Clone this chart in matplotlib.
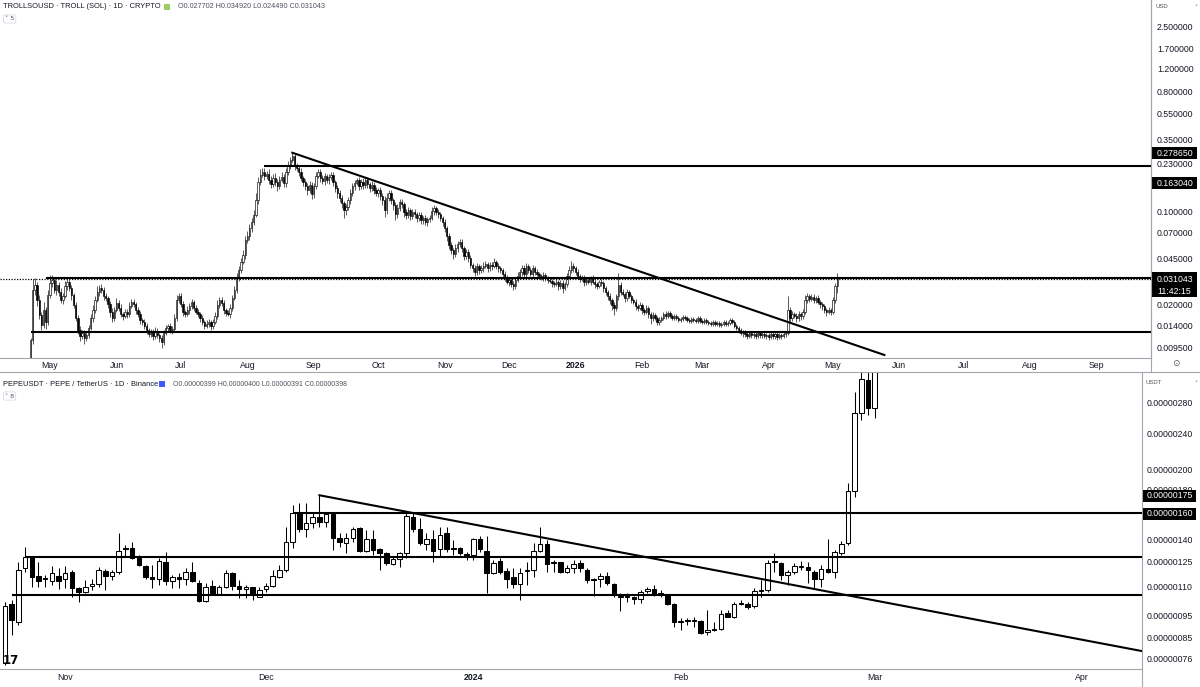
import numpy as np
import matplotlib.pyplot as plt
import matplotlib.dates as mdates
from matplotlib.patches import Rectangle
from matplotlib.lines import Line2D
from matplotlib.transforms import Affine2D
from matplotlib.ticker import FixedLocator, NullLocator

plt.rcParams['font.family'] = ['Liberation Sans', 'DejaVu Sans']

# ---------------- TROLL (top) : daily closes, 2025-04-22 .. 2026-05-03 ----------------
troll_start = '2025-04-22'
troll_first_open = 0.0081
troll_close = [
    0.0109, 0.0259, 0.0282, 0.0218, 0.0168, 0.0141, 0.0183, 0.0149, 0.0237, 0.0292,
    0.0308, 0.0259, 0.0282, 0.0250, 0.0218, 0.0233, 0.0277, 0.0297, 0.0268, 0.0237,
    0.0200, 0.0159, 0.0129, 0.0117, 0.0123, 0.0113, 0.0119, 0.0134, 0.0159, 0.0183,
    0.0218, 0.0250, 0.0268, 0.0259, 0.0233, 0.0225, 0.0203, 0.0177, 0.0159, 0.0183,
    0.0207, 0.0190, 0.0171, 0.0165, 0.0177, 0.0171, 0.0196, 0.0210, 0.0203, 0.0183,
    0.0171, 0.0154, 0.0149, 0.0139, 0.0129, 0.0121, 0.0125, 0.0117, 0.0127, 0.0119,
    0.0113, 0.0105, 0.0123, 0.0134, 0.0139, 0.0129, 0.0132, 0.0159, 0.0218, 0.0233,
    0.0203, 0.0177, 0.0171, 0.0183, 0.0196, 0.0210, 0.0190, 0.0177, 0.0171, 0.0159,
    0.0149, 0.0139, 0.0144, 0.0149, 0.0139, 0.0149, 0.0165, 0.0200, 0.0218, 0.0207,
    0.0183, 0.0174, 0.0171, 0.0190, 0.0225, 0.0259, 0.0319, 0.0366, 0.0420, 0.0474,
    0.0615, 0.0659, 0.0757, 0.0840, 0.0948, 0.1229, 0.1679, 0.1895, 0.1995, 0.1862,
    0.1927, 0.1738, 0.1622, 0.1799, 0.1679, 0.1566, 0.1738, 0.1830, 0.1650, 0.1995,
    0.2253, 0.2457, 0.2634, 0.2214, 0.2139, 0.1995, 0.1799, 0.1679, 0.1566, 0.1462,
    0.1594, 0.1363, 0.1566, 0.1862, 0.1995, 0.1799, 0.1708, 0.1862, 0.1738, 0.1830,
    0.1895, 0.1679, 0.1513, 0.1387, 0.1272, 0.1167, 0.1034, 0.1089, 0.1229, 0.1387,
    0.1566, 0.1650, 0.1738, 0.1566, 0.1679, 0.1594, 0.1738, 0.1622, 0.1513, 0.1594,
    0.1462, 0.1387, 0.1462, 0.1317, 0.1229, 0.1034, 0.1272, 0.1387, 0.1229, 0.1127,
    0.0964, 0.1070, 0.1187, 0.1147, 0.0998, 0.0948, 0.1034, 0.0932, 0.0998, 0.0964,
    0.0900, 0.0948, 0.0869, 0.0900, 0.0840, 0.0884, 0.0900, 0.1016, 0.1070, 0.0998,
    0.0964, 0.0900, 0.0840, 0.0757, 0.0659, 0.0564, 0.0517, 0.0482, 0.0535, 0.0574,
    0.0594, 0.0535, 0.0466, 0.0499, 0.0450, 0.0399, 0.0379, 0.0353, 0.0392, 0.0366,
    0.0379, 0.0392, 0.0406, 0.0379, 0.0399, 0.0392, 0.0420, 0.0392, 0.0379, 0.0366,
    0.0341, 0.0319, 0.0297, 0.0308, 0.0287, 0.0277, 0.0308, 0.0330, 0.0353, 0.0379,
    0.0341, 0.0392, 0.0366, 0.0341, 0.0379, 0.0353, 0.0341, 0.0330, 0.0319, 0.0336,
    0.0319, 0.0308, 0.0302, 0.0292, 0.0287, 0.0297, 0.0277, 0.0292, 0.0268, 0.0287,
    0.0330, 0.0366, 0.0392, 0.0379, 0.0353, 0.0330, 0.0313, 0.0319, 0.0297, 0.0308,
    0.0297, 0.0319, 0.0297, 0.0287, 0.0277, 0.0297, 0.0292, 0.0268, 0.0250, 0.0233,
    0.0218, 0.0200, 0.0190, 0.0233, 0.0282, 0.0250, 0.0241, 0.0225, 0.0250, 0.0233,
    0.0218, 0.0210, 0.0196, 0.0190, 0.0200, 0.0183, 0.0177, 0.0190, 0.0171, 0.0159,
    0.0168, 0.0159, 0.0149, 0.0154, 0.0159, 0.0171, 0.0165, 0.0174, 0.0165, 0.0159,
    0.0165, 0.0159, 0.0154, 0.0157, 0.0162, 0.0159, 0.0154, 0.0151, 0.0157, 0.0154,
    0.0151, 0.0159, 0.0151, 0.0149, 0.0154, 0.0149, 0.0146, 0.0144, 0.0149, 0.0144,
    0.0146, 0.0141, 0.0144, 0.0149, 0.0144, 0.0146, 0.0154, 0.0149, 0.0139, 0.0134,
    0.0129, 0.0123, 0.0125, 0.0121, 0.0117, 0.0123, 0.0119, 0.0121, 0.0117, 0.0123,
    0.0119, 0.0121, 0.0117, 0.0119, 0.0115, 0.0121, 0.0117, 0.0121, 0.0115, 0.0119,
    0.0117, 0.0121, 0.0123, 0.0183, 0.0159, 0.0171, 0.0165, 0.0159, 0.0171, 0.0165,
    0.0177, 0.0218, 0.0233, 0.0221, 0.0229, 0.0218, 0.0225, 0.0210, 0.0203, 0.0196,
    0.0183, 0.0177, 0.0183, 0.0177, 0.0218, 0.0277, 0.031043,
]
# upper / lower wick length, % beyond the candle body
troll_wick_hi = [
    4, 20, 12, 6, 8, 5, 15, 6, 10, 14,
    8, 6, 9, 5, 7, 6, 10, 8, 6, 5,
    4, 6, 5, 8, 6, 5, 7, 6, 8, 9,
    7, 10, 6, 8, 5, 6, 4, 5, 7, 6,
    8, 5, 6, 4, 6, 5, 7, 6, 5, 4,
    5, 6, 4, 5, 6, 4, 5, 6, 7, 5,
    4, 5, 6, 5, 4, 6, 5, 8, 9, 6,
    5, 6, 4, 7, 6, 5, 4, 5, 6, 4,
    5, 4, 6, 5, 4, 5, 7, 8, 5, 6,
    5, 4, 6, 7, 6, 8, 9, 7, 8, 10,
    8, 9, 7, 8, 10, 12, 9, 11, 7, 8,
    6, 9, 7, 8, 10, 6, 7, 9, 6, 8,
    7, 6, 6, 5, 6, 5, 7, 4, 6, 5,
    8, 5, 6, 7, 5, 6, 5, 6, 4, 5,
    6, 5, 4, 5, 6, 5, 4, 6, 5, 7,
    6, 5, 4, 6, 5, 7, 6, 5, 4, 8,
    5, 6, 4, 5, 6, 7, 9, 5, 6, 4,
    5, 8, 6, 5, 4, 6, 5, 4, 6, 5,
    4, 5, 6, 4, 5, 4, 6, 7, 5, 4,
    5, 4, 3, 5, 4, 6, 5, 4, 7, 6,
    5, 6, 4, 5, 6, 5, 4, 6, 5, 4,
    6, 8, 5, 4, 6, 5, 7, 4, 5, 3,
    4, 5, 6, 4, 5, 6, 5, 7, 6, 5,
    6, 5, 4, 5, 6, 4, 5, 3, 4, 5,
    4, 3, 5, 4, 3, 5, 4, 6, 5, 4,
    6, 7, 9, 5, 4, 5, 4, 6, 5, 4,
    5, 4, 6, 5, 4, 3, 5, 4, 3, 4,
    5, 4, 6, 3, 23, 6, 5, 4, 5, 4,
    3, 4, 5, 4, 6, 3, 4, 5, 3, 4,
    5, 3, 4, 5, 4, 3, 5, 4, 3, 4,
    3, 4, 3, 4, 3, 4, 3, 4, 3, 3,
    4, 3, 3, 4, 3, 3, 4, 3, 3, 4,
    3, 4, 3, 3, 4, 3, 4, 3, 3, 4,
    3, 4, 3, 3, 4, 3, 4, 3, 3, 4,
    3, 3, 4, 3, 3, 4, 3, 3, 4, 3,
    3, 4, 3, 28, 5, 6, 4, 5, 6, 4,
    5, 8, 6, 4, 5, 6, 4, 5, 4, 3,
    4, 3, 5, 4, 6, 5, 12,
]
troll_wick_lo = [
    4, 6, 8, 10, 6, 8, 5, 12, 6, 5,
    6, 5, 8, 6, 5, 7, 4, 6, 5, 8,
    6, 5, 7, 9, 6, 10, 6, 5, 4, 6,
    5, 4, 6, 5, 7, 5, 6, 8, 6, 5,
    4, 6, 5, 7, 4, 6, 5, 4, 5, 6,
    5, 7, 6, 5, 6, 5, 6, 7, 5, 6,
    7, 10, 5, 4, 6, 5, 6, 4, 5, 6,
    5, 6, 5, 4, 6, 5, 6, 4, 5, 6,
    5, 6, 4, 5, 7, 5, 4, 5, 6, 5,
    6, 5, 4, 6, 5, 4, 5, 6, 5, 4,
    6, 5, 7, 6, 5, 4, 6, 5, 4, 6,
    5, 6, 7, 5, 6, 8, 5, 4, 7, 6,
    5, 6, 4, 7, 5, 6, 5, 6, 7, 8,
    5, 9, 6, 5, 4, 6, 5, 7, 5, 6,
    5, 7, 6, 8, 7, 9, 13, 8, 5, 6,
    5, 6, 4, 7, 5, 6, 5, 6, 7, 5,
    6, 5, 7, 6, 8, 12, 6, 5, 7, 8,
    10, 6, 5, 7, 8, 6, 5, 7, 5, 6,
    6, 5, 7, 6, 5, 6, 5, 4, 6, 5,
    6, 5, 6, 7, 8, 7, 6, 8, 5, 6,
    5, 7, 6, 5, 6, 5, 6, 7, 5, 6,
    5, 6, 4, 6, 5, 6, 4, 5, 6, 5,
    6, 5, 4, 6, 5, 7, 5, 4, 5, 6,
    5, 6, 5, 4, 6, 5, 4, 5, 4, 5,
    6, 5, 4, 6, 5, 4, 6, 5, 8, 4,
    5, 4, 5, 6, 5, 4, 5, 4, 6, 5,
    4, 5, 4, 6, 5, 4, 5, 6, 5, 6,
    7, 8, 12, 5, 6, 5, 4, 6, 5, 4,
    5, 4, 6, 5, 4, 6, 5, 4, 6, 9,
    5, 4, 6, 5, 4, 3, 5, 4, 3, 4,
    4, 3, 4, 3, 4, 3, 4, 3, 4, 3,
    3, 4, 3, 4, 3, 4, 3, 4, 3, 3,
    4, 3, 3, 4, 3, 4, 3, 4, 4, 3,
    5, 4, 6, 5, 6, 4, 5, 6, 5, 4,
    6, 5, 4, 6, 5, 4, 6, 5, 6, 4,
    5, 4, 5, 4, 6, 5, 4, 6, 5, 7,
    5, 4, 6, 5, 4, 6, 5, 4, 6, 7,
    5, 6, 4, 5, 4, 5, 12,
]
troll_levels = [0.221, 0.0316, 0.0125]           # horizontal lines
troll_level_from = ['2025-08-09', '2025-04-29', '2025-04-22']
troll_last = 0.031043
troll_trend = (['2025-08-22', '2026-05-25'], [0.27865, 0.0084])
troll_ticks = [2.5, 1.7, 1.2, 0.8, 0.55, 0.35, 0.23, 0.1, 0.07, 0.045, 0.02, 0.014, 0.0095]
troll_months = ['2025-05-01', '2025-06-01', '2025-07-01', '2025-08-01', '2025-09-01',
                '2025-10-01', '2025-11-01', '2025-12-01', '2026-01-01', '2026-02-01',
                '2026-03-01', '2026-04-01', '2026-05-01', '2026-06-01', '2026-07-01',
                '2026-08-01', '2026-09-01']
troll_month_labels = ['May', 'Jun', 'Jul', 'Aug', 'Sep', 'Oct', 'Nov', 'Dec', '2026',
                      'Feb', 'Mar', 'Apr', 'May', 'Jun', 'Jul', 'Aug', 'Sep']

# ---------------- PEPE (bottom) : daily OHLC in 1e-6 USDT, 2023-10-23 .. 2024-03-01 ----------------
pepe_start = '2023-10-23'
pepe_open = [
    0.744, 1.005, 0.917, 1.207, 1.277, 1.159, 1.148, 1.130, 1.159, 1.141,
    1.183, 1.090, 1.068, 1.104, 1.113, 1.189, 1.159, 1.183, 1.336, 1.336,
    1.271, 1.220, 1.153, 1.141, 1.244, 1.130, 1.153, 1.141, 1.183, 1.118,
    1.020, 1.101, 1.058, 1.096, 1.177, 1.101, 1.085, 1.096, 1.042, 1.085,
    1.101, 1.153, 1.195, 1.378, 1.598, 1.473, 1.518, 1.565, 1.526, 1.590,
    1.407, 1.371, 1.407, 1.480, 1.316, 1.400, 1.330, 1.303, 1.232, 1.265,
    1.303, 1.565, 1.473, 1.364, 1.400, 1.330, 1.443, 1.336, 1.336, 1.297,
    1.290, 1.400, 1.316, 1.177, 1.250, 1.189, 1.153, 1.113, 1.189, 1.195,
    1.316, 1.364, 1.238, 1.244, 1.183, 1.207, 1.238, 1.195, 1.135, 1.141,
    1.159, 1.113, 1.047, 1.040, 1.042, 1.031, 1.074, 1.085, 1.058, 1.052,
    1.005, 0.917, 0.921, 0.926, 0.921, 0.872, 0.880, 0.885, 0.960, 0.941,
    1.010, 1.005, 0.995, 1.076, 1.081, 1.244, 1.238, 1.165, 1.183, 1.213,
    1.213, 1.183, 1.141, 1.201, 1.183, 1.303, 1.371, 1.787, 2.660, 3.147,
    2.729,
]
pepe_high = [
    1.015, 1.025, 1.244, 1.344, 1.280, 1.244, 1.165, 1.220, 1.207, 1.220,
    1.195, 1.096, 1.135, 1.141, 1.213, 1.201, 1.195, 1.443, 1.357, 1.378,
    1.290, 1.226, 1.226, 1.271, 1.310, 1.165, 1.177, 1.207, 1.244, 1.135,
    1.118, 1.135, 1.107, 1.195, 1.183, 1.135, 1.107, 1.096, 1.096, 1.118,
    1.195, 1.226, 1.489, 1.665, 1.681, 1.681, 1.598, 1.750, 1.606, 1.606,
    1.443, 1.443, 1.489, 1.489, 1.465, 1.465, 1.336, 1.310, 1.277, 1.310,
    1.598, 1.598, 1.557, 1.443, 1.465, 1.489, 1.489, 1.393, 1.344, 1.310,
    1.407, 1.422, 1.422, 1.257, 1.271, 1.207, 1.207, 1.207, 1.244, 1.371,
    1.489, 1.393, 1.257, 1.244, 1.226, 1.257, 1.257, 1.207, 1.148, 1.177,
    1.183, 1.118, 1.063, 1.063, 1.047, 1.079, 1.096, 1.107, 1.079, 1.058,
    1.010, 0.936, 0.936, 0.941, 0.926, 0.975, 0.917, 0.975, 0.975, 1.015,
    1.025, 1.015, 1.090, 1.135, 1.257, 1.303, 1.244, 1.195, 1.238, 1.250,
    1.244, 1.195, 1.226, 1.400, 1.323, 1.386, 1.862, 2.960, 3.350, 3.350,
    3.600,
]
pepe_low = [
    0.737, 0.858, 0.903, 1.183, 1.096, 1.096, 1.096, 1.107, 1.085, 1.090,
    1.042, 1.015, 1.063, 1.079, 1.096, 1.079, 1.135, 1.171, 1.277, 1.265,
    1.220, 1.141, 1.090, 1.107, 1.107, 1.090, 1.090, 1.107, 1.124, 1.015,
    1.015, 1.058, 1.052, 1.090, 1.079, 1.036, 1.036, 1.025, 1.042, 1.068,
    1.096, 1.148, 1.183, 1.336, 1.451, 1.415, 1.480, 1.489, 1.489, 1.323,
    1.344, 1.303, 1.378, 1.310, 1.310, 1.290, 1.195, 1.226, 1.226, 1.213,
    1.271, 1.451, 1.357, 1.323, 1.244, 1.277, 1.310, 1.290, 1.290, 1.257,
    1.257, 1.310, 1.063, 1.171, 1.171, 1.090, 1.090, 1.025, 1.107, 1.153,
    1.310, 1.183, 1.183, 1.177, 1.177, 1.177, 1.183, 1.118, 1.047, 1.096,
    1.107, 1.042, 0.970, 1.015, 1.005, 1.010, 1.063, 1.047, 1.042, 1.000,
    0.894, 0.880, 0.903, 0.894, 0.863, 0.858, 0.876, 0.883, 0.941, 0.936,
    1.000, 0.980, 0.985, 1.042, 1.068, 1.183, 1.135, 1.107, 1.171, 1.195,
    1.118, 1.090, 1.096, 1.177, 1.148, 1.290, 1.357, 1.735, 2.565, 2.633,
    2.600,
]
pepe_close = [
    0.995, 0.926, 1.195, 1.277, 1.153, 1.130, 1.143, 1.177, 1.130, 1.177,
    1.090, 1.068, 1.096, 1.112, 1.195, 1.159, 1.183, 1.316, 1.330, 1.271,
    1.226, 1.153, 1.141, 1.250, 1.130, 1.153, 1.141, 1.183, 1.130, 1.020,
    1.096, 1.063, 1.096, 1.177, 1.101, 1.085, 1.096, 1.058, 1.079, 1.101,
    1.159, 1.195, 1.378, 1.598, 1.473, 1.518, 1.565, 1.526, 1.590, 1.407,
    1.378, 1.407, 1.473, 1.316, 1.400, 1.323, 1.303, 1.238, 1.265, 1.303,
    1.574, 1.473, 1.371, 1.400, 1.316, 1.428, 1.330, 1.330, 1.303, 1.290,
    1.400, 1.330, 1.177, 1.238, 1.183, 1.141, 1.113, 1.177, 1.195, 1.316,
    1.364, 1.232, 1.244, 1.183, 1.207, 1.232, 1.207, 1.135, 1.141, 1.159,
    1.118, 1.052, 1.042, 1.045, 1.031, 1.068, 1.085, 1.058, 1.063, 1.005,
    0.917, 0.921, 0.926, 0.921, 0.867, 0.880, 0.885, 0.955, 0.941, 1.005,
    1.005, 0.990, 1.074, 1.081, 1.238, 1.250, 1.165, 1.183, 1.220, 1.220,
    1.195, 1.141, 1.201, 1.183, 1.310, 1.364, 1.787, 2.660, 3.164, 2.729,
    3.450,
]
pepe_levels = [1.598, 1.279, 1.052]
pepe_level_from = ['2023-12-05', '2023-10-26', '2023-10-24']
pepe_trend = (['2023-12-09', '2024-04-10'], [1.75, 0.791])
pepe_ticks = [2.8, 2.4, 2.0, 1.8, 1.4, 1.25, 1.1, 0.95, 0.85, 0.76]
pepe_months = ['2023-11-01', '2023-12-01', '2024-01-01', '2024-02-01', '2024-03-01', '2024-04-01']
pepe_month_labels = ['Nov', 'Dec', '2024', 'Feb', 'Mar', 'Apr']

# ---------------------------------------------------------------------------
W, H = 1200, 687
INK = '#131722'
GRID = '#a3a6ae'

fig = plt.figure(figsize=(12, 6.87), dpi=100)
px = Affine2D().scale(1 / W, -1 / H).translate(0, 1) + fig.transFigure


def d2n(s):
    return mdates.date2num(np.datetime64(s))


def fig_box(x, y, w, h, fc='black', ec='black', lw=0.0):
    fig.add_artist(Rectangle((x, y), w, h, transform=px, facecolor=fc, edgecolor=ec, linewidth=lw))


def fig_line(x0, y0, x1, y1, color=GRID, lw=0.8):
    fig.add_artist(Line2D([x0, x1], [y0, y1], transform=px, color=color, linewidth=lw))


def draw_candles(ax, x, o, h, l, c, width, lw):
    o, h, l, c = map(np.asarray, (o, h, l, c))
    up = c >= o
    ax.vlines(x, l, h, color='black', linewidth=lw, zorder=2)
    lo = np.minimum(o, c)
    ht = np.abs(c - o)
    ax.bar(x[up], ht[up], width, bottom=lo[up], facecolor='white', edgecolor='black',
           linewidth=lw, zorder=3)
    ax.bar(x[~up], ht[~up], width, bottom=lo[~up], facecolor='black', edgecolor='black',
           linewidth=lw, zorder=3)


def style_axis(ax, ticks, fmt, pad_y, months, month_labels, pad_x):
    ax.set_yscale('log')
    ax.yaxis.tick_right()
    ax.yaxis.set_major_locator(FixedLocator(ticks))
    ax.yaxis.set_minor_locator(NullLocator())
    ax.set_yticklabels([fmt(v) for v in ticks])
    ax.tick_params(axis='y', length=0, pad=pad_y, labelsize=6.3, labelcolor=INK)
    ax.set_xticks([d2n(m) for m in months])
    ax.set_xticklabels(month_labels)
    ax.tick_params(axis='x', length=0, pad=pad_x, labelsize=6.3, labelcolor=INK)
    for lab in ax.get_xticklabels():
        if lab.get_text().isdigit():
            lab.set_fontweight('bold')
    for side in ('top', 'left'):
        ax.spines[side].set_visible(False)
    for side in ('right', 'bottom'):
        ax.spines[side].set_color(GRID)
        ax.spines[side].set_linewidth(0.8)


# ---------------- top panel ----------------
ax1 = fig.add_axes([0, 1 - 358 / H, 1151 / W, 358 / H])
t1 = d2n(troll_start) + np.arange(len(troll_close))
c1 = np.array(troll_close)
o1 = np.concatenate([[troll_first_open], c1[:-1]])
h1 = np.maximum(o1, c1) * (1 + np.array(troll_wick_hi) / 100)
l1 = np.minimum(o1, c1) * (1 - np.array(troll_wick_lo) / 100)
draw_candles(ax1, t1, o1, h1, l1, c1, 0.62, 0.45)

x1_right = d2n('2025-05-01') + 513.3
ax1.set_xlim(d2n('2025-05-01') - 23.3, x1_right)
ax1.set_ylim(0.007973, 3.922)
for lv, start in zip(troll_levels, troll_level_from):
    ax1.plot([d2n(start), x1_right], [lv, lv], color='black', linewidth=1.5, zorder=4,
             solid_capstyle='butt')
ax1.axhline(troll_last, color='black', linewidth=0.9, linestyle=(0, (1, 1.2)), zorder=4)
ax1.plot([d2n(s) for s in troll_trend[0]], troll_trend[1], color='black', linewidth=1.5, zorder=4)
style_axis(ax1, troll_ticks, lambda v: f'{v:.6f}', 4.3, troll_months, troll_month_labels, 2.0)

# ---------------- bottom panel ----------------
ax2 = fig.add_axes([0, 1 - 669 / H, 1142 / W, (669 - 372) / H])
t2 = d2n(pepe_start) + np.arange(len(pepe_close))
draw_candles(ax2, t2, pepe_open, pepe_high, pepe_low, pepe_close, 0.68, 0.75)
x2_right = d2n(pepe_start) + 169.96
ax2.set_xlim(d2n(pepe_start) - 0.75, x2_right)
ax2.set_ylim(0.7222, 3.279)
for lv, start in zip(pepe_levels, pepe_level_from):
    ax2.plot([d2n(start), x2_right], [lv, lv], color='black', linewidth=1.5, zorder=4,
             solid_capstyle='butt')
ax2.plot([d2n(s) for s in pepe_trend[0]], pepe_trend[1], color='black', linewidth=1.5, zorder=4)
style_axis(ax2, pepe_ticks, lambda v: f'{v * 1e-6:.8f}', 3.6, pepe_months, pepe_month_labels, 3.2)

# ---------------- frame lines ----------------
fig_line(1151, 0, 1151, 372)
fig_line(0, 372, W, 372)
fig_line(1142, 669, 1142, H)

# ---------------- headers ----------------
fig.text(3, 7, 'TROLLSOUSD · TROLL (SOL) · 1D · CRYPTO', transform=px, fontsize=5.45,
         color=INK, va='center', ha='left')
fig_box(164, 3.5, 6, 6, fc='#9ccc65')
fig.text(178, 7, 'O0.027702 H0.034920 L0.024490 C0.031043', transform=px, fontsize=5.2,
         color='#50535e', va='center', ha='left')
fig.text(3, 384, 'PEPEUSDT · PEPE / TetherUS · 1D · Binance', transform=px, fontsize=5.45,
         color=INK, va='center', ha='left')
fig_box(159, 380.5, 6, 6, fc='#3d5afe')
fig.text(173, 384, 'O0.00000399 H0.00000400 L0.00000391 C0.00000398', transform=px,
         fontsize=5.0, color='#50535e', va='center', ha='left')
for yy, n in ((19, '5'), (396, '8')):
    fig.text(5, yy, '\u02c5 ' + n, transform=px, fontsize=4.6, color='#50535e', va='center',
             ha='left', family=['DejaVu Sans'],
             bbox=dict(boxstyle='round,pad=0.25', fc='white', ec='#d1d4dc', lw=0.5))

fig.text(1156, 7, 'USD', transform=px, fontsize=4.3, color='#50535e', va='center')
fig.text(1194, 7, '\u02c5', transform=px, fontsize=4.3, color='#50535e', va='center',
         family=['DejaVu Sans'])
fig.text(1146, 383, 'USDT', transform=px, fontsize=4.3, color='#50535e', va='center')
fig.text(1194, 383, '\u02c5', transform=px, fontsize=4.3, color='#50535e', va='center',
         family=['DejaVu Sans'])
fig.text(1176, 364, '\u2299', transform=px, fontsize=6.5, color='#50535e', va='center',
         ha='center', family=['DejaVu Sans'])
fig.text(3, 661, '17', transform=px, fontsize=8.5, fontweight='bold', color='black',
         va='center', ha='left', family=['DejaVu Sans'])

# ---------------- price label boxes ----------------
for yc, s in ((153, '0.278650'), (183, '0.163040')):
    fig_box(1152, yc - 6, 45, 12)
    fig.text(1157, yc, s, transform=px, fontsize=6.3, color='white', va='center')
fig_box(1152, 272, 45, 25)
fig.text(1157, 279, '0.031043', transform=px, fontsize=6.3, color='white', va='center')
fig.text(1157, 291, '11:42:15', transform=px, fontsize=6.3, color='white', va='center')
for yc, s in ((496, '0.00000175'), (514, '0.00000160')):
    fig_box(1143, yc - 6, 53, 12)
    fig.text(1147, yc, s, transform=px, fontsize=6.3, color='white', va='center')

fig.savefig('out.png', dpi=100, facecolor='white')
